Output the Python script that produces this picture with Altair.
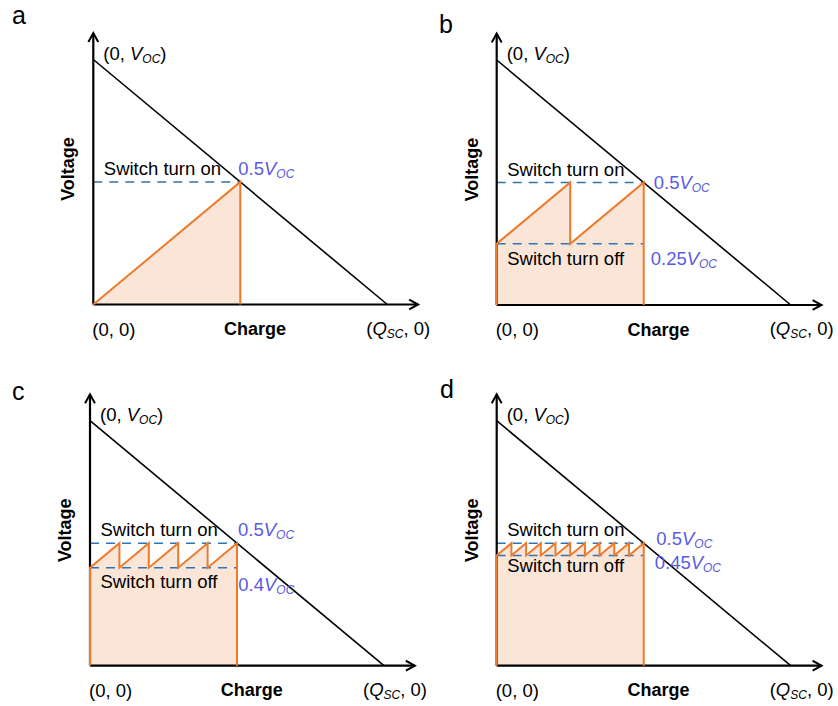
import altair as alt
import pandas as pd

# ---------------------------------------------------------------------------
# Data: normalised charge (Q / Q_SC) and voltage (V / V_OC)
# ---------------------------------------------------------------------------
PANEL_IDS = ["a", "b", "c", "d"]
V_ON = [0.5, 0.5, 0.5, 0.5]          # switch turns on at this voltage
V_OFF = [0.0, 0.25, 0.4, 0.45]       # switch turns off / capacitor resets to this voltage
SWITCH_Q = [                          # charge at which each switching event happens
    [0.5],
    [0.25, 0.5],
    [0.1, 0.2, 0.3, 0.4, 0.5],
    [0.05, 0.1, 0.15, 0.2, 0.25, 0.3, 0.35, 0.4, 0.45, 0.5],
]
LOAD_Q = [0.0, 1.0]                   # load line from (0, V_OC) to (Q_SC, 0)
LOAD_V = [1.0, 0.0]

Y_TITLE = "Voltage"
X_TITLE = "Charge"
ON_TEXT = "Switch turn on"
OFF_TEXT = "Switch turn off"

# ---------------------------------------------------------------------------
# Geometry and style
# ---------------------------------------------------------------------------
PANEL_W, PANEL_H = 419, 353
Q_PX = 294.0      # pixels per Q_SC
V_PX = 245.0      # pixels per V_OC
Q_TIP = 1.105     # end of the charge axis arrow
V_TIP = 1.108     # end of the voltage axis arrow

FONT = "Liberation Sans"
MAIN_SIZE = 18.5
SUB_SIZE = 12
SUB_DROP = 3
BOLD_SIZE = 18
BLACK = "#000000"
ORANGE = "#EB7B2D"
FILL = "#FBE5D6"
DASH = "#2E75B6"
VALUE_BLUE = "#5B5BE0"

# per-panel placement (pixels inside each panel)
LAYOUT = {
    "a": dict(origin=(93.3, 304.5), letter=(12, 24), on_val=(-2, -7), off_val=None, off_txt_dy=None),
    "b": dict(origin=(77.7, 305.0), letter=(20, 33), on_val=(10, 6), off_val=(7, 21), off_txt_dy=21),
    "c": dict(origin=(90.0, 312.7), letter=(12, 47), on_val=(1, -7), off_val=(1.3, 23), off_txt_dy=20),
    "d": dict(origin=(77.7, 312.7), letter=(21, 45), on_val=(12.6, 1.5), off_val=(11, 13.6), off_txt_dy=17),
}

# Arial / Liberation Sans advance widths (1/1000 em) for composing labels
ADV = {c: 556 for c in "0123456789"}
ADV.update({".": 278, ",": 278, " ": 278, "(": 333, ")": 333,
            "V": 667, "O": 778, "C": 722, "Q": 778, "S": 667})


def text_width(s, size):
    return sum(ADV[c] for c in s) * size / 1000.0


ONE = pd.DataFrame({"k": [0]})


def panel(i):
    pid = PANEL_IDS[i]
    on, off, sw = V_ON[i], V_OFF[i], SWITCH_Q[i]
    lay = LAYOUT[pid]
    ox, oy = lay["origin"]
    xs = alt.Scale(domain=[-ox / Q_PX, (PANEL_W - ox) / Q_PX], nice=False, zero=False)
    ys = alt.Scale(domain=[(oy - PANEL_H) / V_PX, oy / V_PX], nice=False, zero=False)

    def X(field):
        return alt.X(field, scale=xs, axis=None)

    def Y(field):
        return alt.Y(field, scale=ys, axis=None)

    def XD(v):
        return alt.XDatum(v, scale=xs, axis=None)

    def YD(v):
        return alt.YDatum(v, scale=ys, axis=None)

    def label(q, v, text, dx=0, dy=0, size=MAIN_SIZE, style="normal", weight="normal",
              color=BLACK, align="left", angle=0):
        return alt.Chart(ONE).mark_text(
            text=text, font=FONT, fontSize=size, fontStyle=style, fontWeight=weight,
            color=color, align=align, baseline="alphabetic", angle=angle, dx=dx, dy=dy,
        ).encode(x=XD(q), y=YD(v))

    def rich(q, v, parts, dx, dy, color=BLACK):
        out, x = [], dx
        for s, style, sub in parts:
            size = SUB_SIZE if sub else MAIN_SIZE
            if s:
                out.append(label(q, v, s, dx=x, dy=dy + (SUB_DROP if sub else 0),
                                 size=size, style=style, color=color))
                x += text_width(s, size)
        return out

    # sawtooth of the capacitor voltage
    pq, pv = [0.0, 0.0], [0.0, off]
    for k, q in enumerate(sw):
        pq += [q, q]
        pv += [on, off if k < len(sw) - 1 else 0.0]
    saw = pd.DataFrame({"i": list(range(len(pq))), "q": pq, "v": pv})

    area = alt.Chart(saw).mark_area(color=FILL, opacity=1).encode(
        x=X("q:Q"), y=Y("v:Q"), y2=alt.Y2Datum(0.0))

    levels = [on] + ([off] if off > 0 else [])
    dashed = alt.Chart(pd.DataFrame({"level": levels})).mark_rule(
        color=DASH, strokeWidth=1.6, strokeDash=[9, 7]
    ).encode(x=XD(0.0), x2=alt.X2Datum(sw[-1]), y=Y("level:Q"))

    load = alt.Chart(pd.DataFrame({"q": LOAD_Q, "v": LOAD_V})).mark_line(
        color=BLACK, strokeWidth=1.6).encode(x=X("q:Q"), y=Y("v:Q"))

    y_axis = alt.Chart(ONE).mark_rule(color=BLACK, strokeWidth=2.2).encode(
        x=XD(0.0), y=YD(0.0), y2=alt.Y2Datum(V_TIP))
    x_axis = alt.Chart(ONE).mark_rule(color=BLACK, strokeWidth=2.2).encode(
        x=XD(0.0), x2=alt.X2Datum(Q_TIP), y=YD(0.0))
    up_head = alt.Chart(ONE).mark_point(
        shape="M -0.55 1 L 0 0 L 0.55 1", size=324, filled=False, color=BLACK,
        strokeWidth=2, opacity=1).encode(x=XD(0.0), y=YD(V_TIP))
    right_head = alt.Chart(ONE).mark_point(
        shape="M -1 -0.55 L 0 0 L -1 0.55", size=324, filled=False, color=BLACK,
        strokeWidth=2, opacity=1).encode(x=XD(Q_TIP), y=YD(0.0))

    saw_line = alt.Chart(saw).mark_line(color=ORANGE, strokeWidth=2).encode(
        x=X("q:Q"), y=Y("v:Q"), order=alt.Order("i:Q"))

    texts = []
    lx, ly = lay["letter"]
    texts.append(alt.Chart(ONE).mark_text(
        text=pid, font=FONT, fontSize=25, align="left", baseline="alphabetic", color=BLACK
    ).encode(x=alt.value(lx), y=alt.value(ly)))
    texts += rich(0.0, LOAD_V[0], [("(0, ", "normal", False), ("V", "italic", False),
                                   ("OC", "italic", True), (")", "normal", False)], 10, 0)
    texts.append(label(0.0, on, ON_TEXT, dx=10.5, dy=-7))
    vdx, vdy = lay["on_val"]
    texts += rich(sw[-1], on, [(f"{on:g}", "normal", False), ("V", "italic", False),
                               ("OC", "italic", True)], vdx, vdy, VALUE_BLUE)
    if lay["off_val"] is not None:
        texts.append(label(0.0, off, OFF_TEXT, dx=10.5, dy=lay["off_txt_dy"]))
        fdx, fdy = lay["off_val"]
        texts += rich(sw[-1], off, [(f"{off:g}", "normal", False), ("V", "italic", False),
                                    ("OC", "italic", True)], fdx, fdy, VALUE_BLUE)
    texts.append(label(0.0, 0.0, "(0, 0)", dx=-1, dy=31))
    texts.append(label(0.55, 0.0, X_TITLE, dy=30.5, size=BOLD_SIZE, weight="bold", align="center"))
    texts += rich(LOAD_Q[1], 0.0, [("(", "normal", False), ("Q", "italic", False),
                                   ("SC", "italic", True), (", 0)", "normal", False)], -21, 30)
    texts.append(label(-19 / Q_PX, 0.553, Y_TITLE, size=BOLD_SIZE, weight="bold",
                       align="center", angle=270))

    layers = [area, dashed, load, y_axis, x_axis, up_head, right_head, saw_line] + texts
    return alt.layer(*layers).properties(width=PANEL_W, height=PANEL_H)


chart = alt.concat(
    *[panel(i) for i in range(len(PANEL_IDS))],
    columns=2, spacing=0, bounds="flush",
).properties(padding=0).configure_view(stroke=None)

chart.save("out.html", embed_options={"renderer": "svg", "actions": False})
